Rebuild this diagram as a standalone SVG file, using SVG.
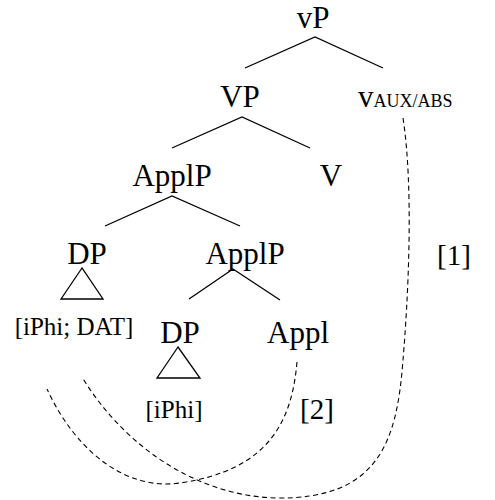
<svg xmlns="http://www.w3.org/2000/svg" width="495" height="500" viewBox="0 0 495 500">
  <style>
    text { font-family: "Liberation Serif", "Times New Roman", serif; fill: #000; }
    .lbl { font-size: 31px; text-anchor: middle; }
    .tag { font-size: 29px; text-anchor: middle; }
    .feat { font-size: 25px; text-anchor: middle; }
    .sc { font-size: 18px; }
    .branch { stroke: #000; stroke-width: 1.3; fill: none; }
    .link { stroke: #000; stroke-width: 1.1; fill: none; stroke-dasharray: 5 3.5; }
  </style>
  <rect width="495" height="500" fill="#fff"/>

  <!-- tree branches -->
  <g id="branches">
    <polyline class="branch" points="245,68 315,37 383,68"/>
    <polyline class="branch" points="172,148 242,117 310,148"/>
    <polyline class="branch" points="105,226 172,196 240,226"/>
    <polyline class="branch" points="189,299 233,269 280,300"/>
    <polygon class="branch" points="82,268 61,299 103,299"/>
    <polygon class="branch" points="178,347 157,378 200,378"/>
  </g>

  <g id="n-vP"><text class="lbl" x="313" y="28">vP</text></g>
  <g id="n-VP"><text class="lbl" x="240" y="107">VP</text></g>
  <g id="n-vaux"><text x="358" y="107" font-size="31">v<tspan class="sc">AUX/ABS</tspan></text></g>
  <g id="n-ApplP1"><text class="lbl" x="172" y="186">ApplP</text></g>
  <g id="n-V"><text class="lbl" x="331" y="186">V</text></g>
  <g id="n-DP1"><text class="lbl" x="87" y="264">DP</text></g>
  <g id="n-ApplP2"><text class="lbl" x="245" y="264">ApplP</text></g>
  <g id="n-feat1"><text class="feat" x="74" y="335">[iPhi; DAT]</text></g>
  <g id="n-DP2"><text class="lbl" x="180" y="343">DP</text></g>
  <g id="n-Appl"><text class="lbl" x="298" y="343">Appl</text></g>
  <g id="n-feat2"><text class="feat" x="174" y="418">[iPhi]</text></g>
  <g id="n-tag1"><text class="tag" x="454" y="265">[1]</text></g>
  <g id="n-tag2"><text class="tag" x="317" y="419">[2]</text></g>

  <!-- agreement links -->
  <g id="connectors">
    <path class="link" d="M403,118 C414,190 408,300 403,360 C397,440 380,500 275,498 C190,495 120,440 82,377"/>
    <path class="link" d="M297,362 C292,420 270,470 180,483 C125,491 75,450 47,389"/>
  </g>
</svg>
